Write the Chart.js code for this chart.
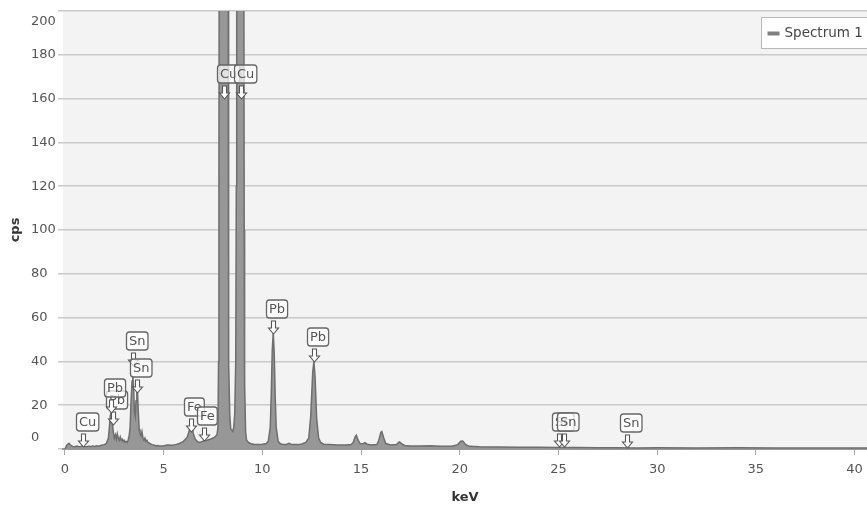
<!DOCTYPE html>
<html><head><meta charset="utf-8">
<script src="https://cdn.jsdelivr.net/npm/chart.js@4.4.1/dist/chart.umd.min.js"></script>
<style>html,body{margin:0;padding:0;background:#fff;overflow:hidden}</style>
</head><body>
<canvas id="c" width="867" height="509"></canvas>
<script>
// ---- data ----
const energies = [
  0.0,0.1,0.2,0.3,0.4,0.5,0.6,0.7,0.8,0.9,
  1.0,1.1,1.2,1.3,1.4,1.5,1.6,1.7,1.8,1.9,
  2.0,2.1,2.2,2.25,2.3,2.34,2.38,2.42,2.46,2.5,
  2.55,2.6,2.65,2.7,2.75,2.8,2.85,2.9,2.95,3.0,
  3.05,3.1,3.15,3.2,3.25,3.3,3.35,3.4,3.44,3.48,
  3.52,3.56,3.6,3.64,3.68,3.72,3.76,3.8,3.85,3.9,
  3.95,4.0,4.05,4.1,4.15,4.2,4.3,4.4,4.5,4.6,
  4.7,4.8,5.0,5.2,5.4,5.6,5.8,6.0,6.1,6.2,
  6.3,6.4,6.45,6.5,6.6,6.7,6.8,6.9,7.0,7.06,
  7.1,7.2,7.3,7.4,7.5,7.6,7.7,7.75,7.78,7.8,
  7.82,7.9,8.04,8.2,8.26,8.28,8.3,8.35,8.4,8.5,
  8.55,8.6,8.65,8.68,8.7,8.8,8.88,8.98,9.05,9.08,
  9.1,9.15,9.2,9.3,9.4,9.6,9.8,10.0,10.2,10.3,
  10.4,10.45,10.5,10.55,10.6,10.65,10.7,10.8,10.9,11.0,
  11.2,11.35,11.5,11.8,12.0,12.2,12.35,12.45,12.55,12.61,
  12.67,12.75,12.85,12.95,13.1,13.4,13.8,14.2,14.5,14.6,
  14.7,14.76,14.85,14.95,15.1,15.2,15.3,15.5,15.8,15.9,
  16.0,16.05,16.15,16.25,16.5,16.8,16.9,16.95,17.05,17.2,
  17.5,18.0,18.5,19.0,19.6,19.9,20.05,20.15,20.3,20.5,
  21.0,22.0,23.0,24.0,25.0,26.0,27.0,28.0,29.0,30.0,
  32.0,34.0,36.0,38.0,40.0,40.7
];
const counts = [
  0,1.8,2.6,1.6,1.2,1.0,1.3,1.0,1.2,1.6,
  1.2,1.0,1.3,1.1,1.4,1.2,1.5,1.3,1.6,1.8,
  2.0,2.6,5,10,15.5,16.5,14,10,7,5,
  6.5,4.5,7,5,4,5.5,4,4.5,3.5,4,
  3,3.5,3,4,6,10,22,31,33.5,27,
  17,15,22,27.5,25,16,9,7,6,8,
  5,4,5,3.5,4,3,2.5,2,1.8,1.5,
  1.6,1.4,1.5,1.8,1.7,2.0,2.5,3.5,4.5,5.5,
  8.5,10.5,10,7,4.5,3.5,3,3.2,3.6,4,
  3.8,4,4.3,4.6,5,5.5,6.5,10,40,120,
  300,1500,3000,1500,300,120,40,15,9,8,
  10,16,40,120,300,550,600,550,300,100,
  30,8,4,3,2.5,2.1,2,2.2,2.5,3.5,
  10,25,45,53,44,24,10,3.5,2.5,2.2,
  2,2.6,2,2,2.3,3,5,15,35,40,
  33,14,5,3,2.2,2,1.8,1.8,2,3,
  5.5,6.3,4,2.5,2.4,2.9,2.2,1.8,2,4,
  7.6,8,5,2.5,1.8,2,3,3.2,2.5,1.6,
  1.4,1.4,1.5,1.3,1.3,2,3.5,3.6,2,1.2,
  1.0,0.9,0.8,0.8,0.7,0.7,0.6,0.6,0.5,0.6,
  0.5,0.6,0.5,0.5,0.5,0.5
];
const seriesName = 'Spectrum 1';
const yTickValues = [0,20,40,60,80,100,120,140,160,180,200];
const xTickValues = [0,5,10,15,20,25,30,35,40];
// element markers: energy (keV), symbol, count level at arrow tip (cps)
const labelEnergies = [0.93, 2.44, 2.35, 3.44, 3.66, 6.40, 7.06, 8.04, 8.90, 10.55, 12.61, 25.04, 25.27, 28.49];
const labelTexts    = ['Cu','Pb','Pb','Sn','Sn','Fe','Fe','Cu','Cu','Pb','Pb','Sn','Sn','Sn'];
const labelTips     = [1, 11, 16.4, 38, 25.5, 7.7, 3.6, 160, 160, 52.4, 39.7, 1, 1, 0.5];

const FONT = "'DejaVu Sans', Verdana, sans-serif";

const bgPlugin = {
  id: 'plotBg',
  beforeDraw(chart) {
    const {ctx, chartArea: a} = chart;
    ctx.save();
    ctx.fillStyle = '#f3f3f3';
    ctx.fillRect(a.left, a.top, a.right - a.left, a.bottom - a.top);
    ctx.restore();
  }
};

const yLabelPlugin = {
  id: 'yLabels',
  afterDraw(chart) {
    const {ctx, chartArea: a} = chart;
    const ys = chart.scales.y;
    ctx.save();
    ctx.font = '13px ' + FONT;
    ctx.fillStyle = '#555';
    ctx.textAlign = 'left';
    ctx.textBaseline = 'middle';
    yTickValues.forEach(v => {
      let py = ys.getPixelForValue(v);
      py = Math.min(Math.max(py, a.top + 11), a.bottom - 11);
      ctx.fillText(String(v), a.left - 32, py);
    });
    ctx.restore();
  }
};

function roundRect(ctx, x, y, w, h, r) {
  ctx.beginPath();
  ctx.moveTo(x + r, y);
  ctx.lineTo(x + w - r, y);
  ctx.arcTo(x + w, y, x + w, y + r, r);
  ctx.lineTo(x + w, y + h - r);
  ctx.arcTo(x + w, y + h, x + w - r, y + h, r);
  ctx.lineTo(x + r, y + h);
  ctx.arcTo(x, y + h, x, y + h - r, r);
  ctx.lineTo(x, y + r);
  ctx.arcTo(x, y, x + r, y, r);
  ctx.closePath();
}

const peakLabelPlugin = {
  id: 'peakLabels',
  afterDatasetsDraw(chart) {
    const ctx = chart.ctx;
    const xs = chart.scales.x, ys = chart.scales.y;
    ctx.save();
    ctx.font = '13px ' + FONT;
    labelEnergies.forEach((e, i) => {
      const x = Math.round(xs.getPixelForValue(e)) + 0.5;
      const y = Math.round(ys.getPixelForValue(labelTips[i]));
      // hollow down arrow
      ctx.beginPath();
      ctx.moveTo(x - 2, y - 13);
      ctx.lineTo(x + 2, y - 13);
      ctx.lineTo(x + 2, y - 6);
      ctx.lineTo(x + 5, y - 6);
      ctx.lineTo(x, y);
      ctx.lineTo(x - 5, y - 6);
      ctx.lineTo(x - 2, y - 6);
      ctx.closePath();
      ctx.fillStyle = '#ffffff';
      ctx.fill();
      ctx.strokeStyle = '#555';
      ctx.lineWidth = 1.1;
      ctx.stroke();
      // box
      const tw = ctx.measureText(labelTexts[i]).width;
      const bx = x - 7, by = y - 34, bw = tw + 5, bh = 18;
      roundRect(ctx, bx, by, bw, bh, 3);
      ctx.fillStyle = 'rgba(255,255,255,0.72)';
      ctx.fill();
      ctx.strokeStyle = '#666';
      ctx.lineWidth = 1.3;
      ctx.stroke();
      ctx.fillStyle = '#555';
      ctx.textAlign = 'left';
      ctx.textBaseline = 'middle';
      ctx.fillText(labelTexts[i], bx + 2.5, by + bh / 2 + 0.5);
    });
    ctx.restore();
  }
};

const legendPlugin = {
  id: 'boxLegend',
  afterDraw(chart) {
    const {ctx, chartArea: a} = chart;
    const lx = a.right - 106 + 0.5, ly = a.top + 6 + 0.5;
    ctx.save();
    ctx.fillStyle = '#ffffff';
    ctx.fillRect(lx, ly, 130, 31);
    ctx.strokeStyle = '#b8b8b8';
    ctx.lineWidth = 1;
    ctx.strokeRect(lx, ly, 130, 31);
    ctx.fillStyle = '#808080';
    ctx.fillRect(lx + 6, ly + 14, 12, 4);
    ctx.font = '13.5px ' + FONT;
    ctx.fillStyle = '#444';
    ctx.textAlign = 'left';
    ctx.textBaseline = 'middle';
    ctx.fillText(seriesName, lx + 23, ly + 16);
    ctx.restore();
  }
};

new Chart(document.getElementById('c'), {
  type: 'line',
  data: {
    datasets: [{
      label: seriesName,
      data: energies.map((e, i) => ({x: e, y: counts[i]})),
      borderColor: '#6e6e6e',
      backgroundColor: '#979797',
      borderWidth: 1.5,
      pointRadius: 0,
      fill: 'origin',
      tension: 0
    }]
  },
  options: {
    responsive: false,
    animation: false,
    devicePixelRatio: 1,
    layout: {padding: {top: 11, left: 0, right: 0, bottom: 0}},
    plugins: {legend: {display: false}, tooltip: {enabled: false}},
    scales: {
      x: {
        type: 'linear', min: -0.1, max: 40.63,
        afterBuildTicks(s) { s.ticks = xTickValues.map(v => ({value: v})); },
        ticks: {autoSkip: false, maxRotation: 0, color: '#555', font: {family: FONT, size: 13}, padding: 7},
        grid: {drawOnChartArea: false, drawTicks: true, tickLength: 6, color: '#a8a8a8', lineWidth: 1},
        border: {display: true, color: '#9a9a9a', width: 2},
        title: {display: true, text: 'keV', color: '#333', font: {family: FONT, size: 13, weight: 'bold'}, padding: {top: 0, bottom: 4}},
        afterFit(s) { s.height = 60; s.paddingLeft = 0; s.paddingRight = 0; }
      },
      y: {
        min: 0, max: 200,
        afterBuildTicks(s) { s.ticks = yTickValues.map(v => ({value: v})); },
        ticks: {display: false},
        grid: {color: '#cacaca', lineWidth: 1.5, drawTicks: true, tickLength: 5},
        border: {display: false},
        title: {display: true, text: 'cps', color: '#333', font: {family: FONT, size: 13, weight: 'bold'}, padding: {top: 8, bottom: 0}},
        afterFit(s) { s.width = 63; s.paddingTop = 0; s.paddingBottom = 0; }
      }
    }
  },
  plugins: [bgPlugin, yLabelPlugin, peakLabelPlugin, legendPlugin]
});
</script>
</body></html>
